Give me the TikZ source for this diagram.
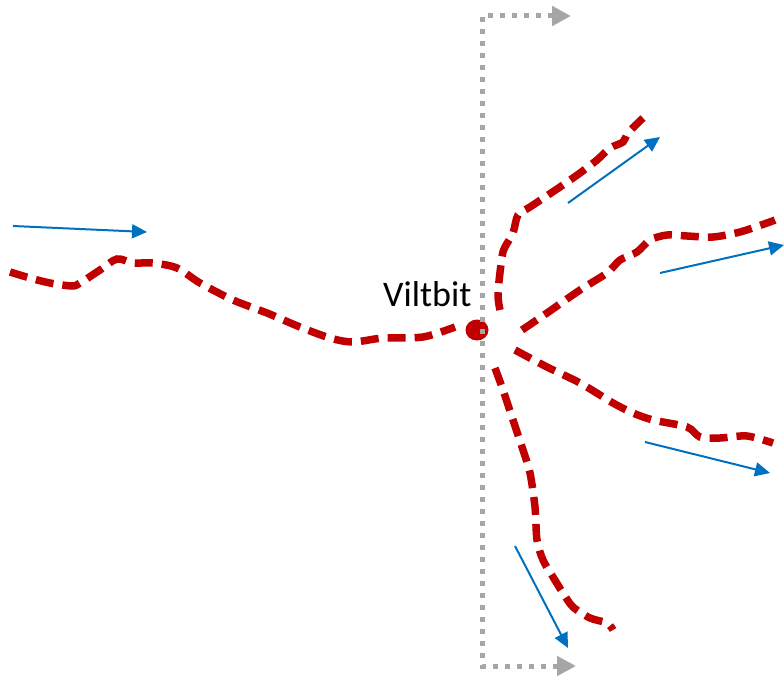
\documentclass[tikz,border=0pt]{standalone}
\usepackage{fontspec}
\setmainfont{Carlito}
\usetikzlibrary{arrows.meta,shapes.geometric}
\definecolor{dred}{HTML}{C00000}
\definecolor{mblue}{HTML}{0070C0}
\definecolor{lgray}{HTML}{A6A6A6}
\begin{document}
\begin{tikzpicture}[x=1pt,y=-1pt,
  redpath/.style={draw=dred,line width=7.5pt,dash pattern=on 18pt off 9pt},
  bluearrow/.style={draw=mblue,line width=2pt,-{Triangle[length=15pt,width=14pt]}},
  grayline/.style={draw=lgray,line width=5pt,dash pattern=on 5pt off 7pt,
    {Triangle[length=19pt,width=19pt]}-{Triangle[length=19pt,width=19pt]}}]
\useasboundingbox (0,0) rectangle (784,677);
% red paths
\draw[redpath] plot[smooth,tension=0.5] coordinates {(10,272) (30,278) (50,283) (72,286) (80,283) (100,270) (117,259) (133,263) (153,263) (177,268) (200,283) (233,300) (267,313) (300,327) (330,338) (353,342) (383,338) (423,337) (455,327)};
\draw[redpath] plot[smooth,tension=0.5] coordinates {(500,310) (498,293) (502,257) (505,247) (513,233) (518,215) (530,207) (560,187) (580,173) (597,160) (610,148) (623,142) (628,133) (643,118)};
\draw[redpath] plot[smooth,tension=0.5] coordinates {(522,330) (547,313) (580,290) (607,273) (620,260) (637,252) (650,240) (667,235) (687,236) (713,237) (740,232) (767,223) (775,220)};
\draw[redpath] plot[smooth,tension=0.5] coordinates {(515,350) (547,367) (580,383) (613,403) (633,413) (653,420) (687,427) (700,437) (720,438) (747,436) (773,443)};
\draw[redpath] plot[smooth,tension=0.5] coordinates {(495,368) (503,390) (513,420) (523,450) (530,473) (535,507) (537,540) (543,560) (553,577) (563,593) (573,607) (590,618) (607,623) (613,630)};
% dot and label
\node[draw=none,fill=dred,ellipse,minimum width=23pt,minimum height=21pt,inner sep=0pt] (bit) at (477,330) {};
\node[anchor=base west,inner sep=0pt,font=\fontsize{36}{40}\selectfont] (lbl) at (383,306) {Viltbit};
% gray axis
\coordinate (gtop) at (571,16);
\coordinate (gc1) at (482,16);
\coordinate (gc2) at (482,666);
\coordinate (gbot) at (576,666);
\draw[grayline] (gtop) -- (gc1) -- (gc2) -- (gbot);
% blue arrows
\coordinate (b1s) at (13,226); \coordinate (b1e) at (147,232);
\coordinate (b2s) at (568,203); \coordinate (b2e) at (660,137);
\coordinate (b3s) at (660,273); \coordinate (b3e) at (784,245);
\coordinate (b4s) at (645,442); \coordinate (b4e) at (770,473);
\coordinate (b5s) at (515,546); \coordinate (b5e) at (568,648);
\draw[bluearrow] (b1s) -- (b1e);
\draw[bluearrow] (b2s) -- (b2e);
\draw[bluearrow] (b3s) -- (b3e);
\draw[bluearrow] (b4s) -- (b4e);
\draw[bluearrow] (b5s) -- (b5e);
\end{tikzpicture}
\end{document}
